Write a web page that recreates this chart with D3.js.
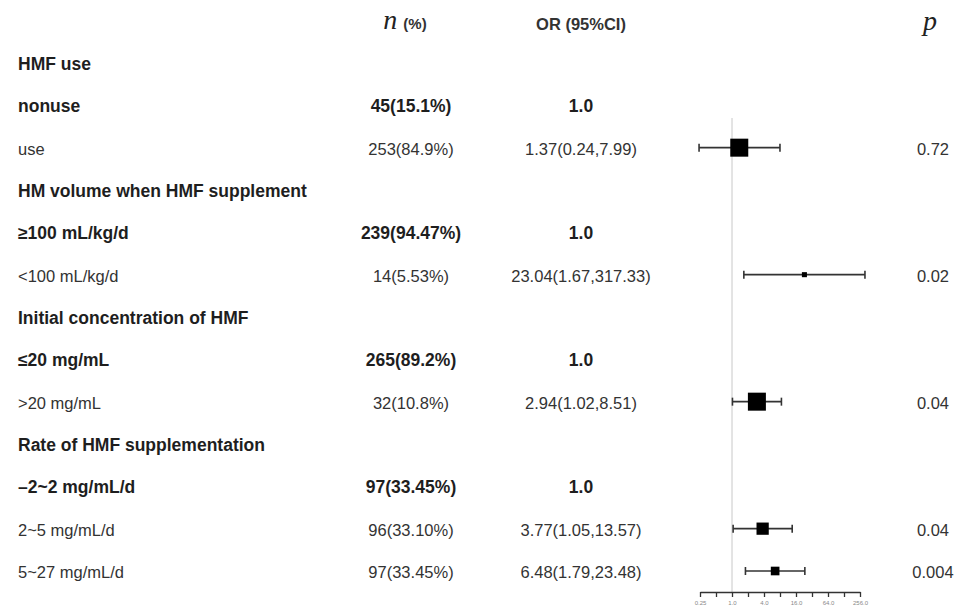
<!DOCTYPE html>
<html>
<head>
<meta charset="utf-8">
<script src="https://cdn.jsdelivr.net/npm/d3@7"></script>
<style>
  html, body { margin: 0; padding: 0; background: #fff; }
  svg { display: block; }
</style>
</head>
<body>
<svg id="chart" width="960" height="616"></svg>
<script>
// Row labels of the table, top to bottom
const rowLabels = [
  "HMF use", "nonuse", "use",
  "HM volume when HMF supplement", "≥100 mL/kg/d", "<100 mL/kg/d",
  "Initial concentration of HMF", "≤20 mg/mL", ">20 mg/mL",
  "Rate of HMF supplementation", "–2~2 mg/mL/d", "2~5 mg/mL/d", "5~27 mg/mL/d"
];
// group = section title, ref = reference level, est = estimated level
const rowKinds = [
  "group", "ref", "est",
  "group", "ref", "est",
  "group", "ref", "est",
  "group", "ref", "est", "est"
];
const nPct = [
  "", "45(15.1%)", "253(84.9%)",
  "", "239(94.47%)", "14(5.53%)",
  "", "265(89.2%)", "32(10.8%)",
  "", "97(33.45%)", "96(33.10%)", "97(33.45%)"
];
const orValue = [null, 1.0, 1.37, null, 1.0, 23.04, null, 1.0, 2.94, null, 1.0, 3.77, 6.48];
const ciLower = [null, null, 0.24, null, null, 1.67, null, null, 1.02, null, null, 1.05, 1.79];
const ciUpper = [null, null, 7.99, null, null, 317.33, null, null, 8.51, null, null, 13.57, 23.48];
const pValues = ["", "", "0.72", "", "", "0.02", "", "", "0.04", "", "", "0.04", "0.004"];
// relative box weights of the estimates
const boxWeight = [null, null, 1.0, null, null, 0.28, null, null, 1.0, null, null, 0.68, 0.48];
// axis ticks (log2 scale)
const axisTicks = [0.25, 0.5, 1, 2, 4, 8, 16, 32, 64, 128, 256];
const axisLabels = ["0.25", "", "1.0", "", "4.0", "", "16.0", "", "64.0", "", "256.0"];

const svg = d3.select("#chart");
const sans = "'Liberation Sans', Arial, sans-serif";
const serif = "'Liberation Serif', 'Times New Roman', serif";

const rows = d3.range(rowLabels.length);
const y = d3.scalePoint().domain(rows).range([63, 571]);
const x = d3.scaleLog().base(2).domain([0.25, 256]).range([700, 860]);
const boxSize = d3.scaleLinear().domain([0, 1]).range([0, 18]);

const colLabel = 18, colN = 411, colOR = 581, colP = 933;

// Header
const head = svg.append("g");
const nh = head.append("text").attr("x", colN - 6).attr("y", 29).attr("text-anchor", "middle");
nh.append("tspan").attr("font-family", serif).attr("font-style", "italic").attr("font-size", 28).attr("fill", "#222").text("n");
nh.append("tspan").attr("font-family", sans).attr("font-weight", "bold").attr("font-size", 15).attr("fill", "#333").attr("dx", 6).text("(%)");
head.append("text").attr("x", colOR).attr("y", 30).attr("text-anchor", "middle")
  .attr("font-family", sans).attr("font-weight", "bold").attr("font-size", 16.5).attr("fill", "#333")
  .text("OR (95%CI)");
head.append("text").attr("x", colP - 3).attr("y", 30).attr("text-anchor", "middle")
  .attr("font-family", serif).attr("font-style", "italic").attr("font-size", 28).attr("fill", "#222")
  .text("p");

// Table text
const isBold = i => rowKinds[i] !== "est";
const fontSize = i => isBold(i) ? 17.5 : 16.5;
const fmt = d3.format(".2f");
const tbl = svg.append("g").attr("font-family", sans);
const rowG = tbl.selectAll("g.row").data(rows).join("g").attr("class", "row")
  .attr("transform", i => `translate(0,${y(i) + 7})`);

rowG.append("text").attr("x", colLabel)
  .attr("font-size", fontSize)
  .attr("font-weight", i => isBold(i) ? "bold" : "normal")
  .attr("fill", i => isBold(i) ? "#1e1e1e" : "#333")
  .text(i => rowLabels[i]);

rowG.append("text").attr("x", colN).attr("text-anchor", "middle")
  .attr("font-size", fontSize)
  .attr("font-weight", i => isBold(i) ? "bold" : "normal")
  .attr("fill", i => isBold(i) ? "#1e1e1e" : "#333")
  .text(i => nPct[i]);

rowG.append("text").attr("x", colOR).attr("text-anchor", "middle")
  .attr("font-size", fontSize)
  .attr("font-weight", i => isBold(i) ? "bold" : "normal")
  .attr("fill", i => isBold(i) ? "#1e1e1e" : "#333")
  .text(i => orValue[i] == null ? "" : (rowKinds[i] === "ref" ? orValue[i].toFixed(1)
        : `${fmt(orValue[i])}(${fmt(ciLower[i])},${fmt(ciUpper[i])})`));

rowG.append("text").attr("x", colP).attr("text-anchor", "middle")
  .attr("font-size", 16.5).attr("fill", "#333")
  .text(i => pValues[i]);

// Forest plot
const plot = svg.append("g");
plot.append("line")
  .attr("x1", x(1)).attr("x2", x(1)).attr("y1", 118).attr("y2", 592)
  .attr("stroke", "#c8c8c8").attr("stroke-width", 1);

const est = rows.filter(i => rowKinds[i] === "est");
const mk = plot.selectAll("g.est").data(est).join("g").attr("class", "est");
mk.append("line")
  .attr("x1", i => x(ciLower[i])).attr("x2", i => x(ciUpper[i]))
  .attr("y1", i => y(i)).attr("y2", i => y(i))
  .attr("stroke", "#333").attr("stroke-width", 1.6);
["lo", "hi"].forEach(side => {
  mk.append("line")
    .attr("x1", i => x(side === "lo" ? ciLower[i] : ciUpper[i]))
    .attr("x2", i => x(side === "lo" ? ciLower[i] : ciUpper[i]))
    .attr("y1", i => y(i) - 4).attr("y2", i => y(i) + 4)
    .attr("stroke", "#333").attr("stroke-width", 1.6);
});
mk.append("rect")
  .attr("x", i => x(orValue[i]) - boxSize(boxWeight[i]) / 2)
  .attr("y", i => y(i) - boxSize(boxWeight[i]) / 2)
  .attr("width", i => boxSize(boxWeight[i]))
  .attr("height", i => boxSize(boxWeight[i]))
  .attr("fill", "#000");

// Axis
const axis = d3.axisBottom(x).tickValues(axisTicks)
  .tickFormat((d, k) => axisLabels[k]).tickSize(5).tickSizeOuter(0);
const ax = plot.append("g").attr("transform", "translate(0,592)").call(axis);
ax.select(".domain").attr("stroke", "#333").attr("stroke-width", 1.3);
ax.selectAll(".tick line").attr("stroke", "#333").attr("stroke-width", 1.3);
ax.selectAll(".tick text").attr("font-family", sans).attr("font-size", 6).attr("fill", "#888").attr("dy", "0.9em");
</script>
</body>
</html>
